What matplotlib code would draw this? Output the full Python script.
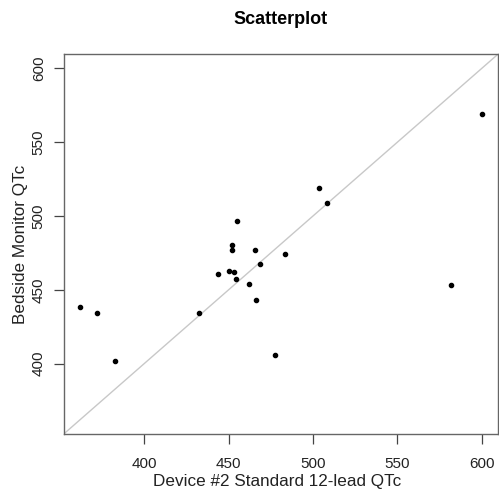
import numpy as np
import matplotlib.pyplot as plt

plt.rcParams['font.family'] = ['Liberation Sans', 'DejaVu Sans']

# QTc values
device2_qtc = [362, 372, 383, 432.5, 444, 450.5, 453.5, 452, 452, 455, 454.5,
               462, 466, 477.5, 581.5, 600, 503.5, 508.5, 465.5, 468.5, 483.5]
bedside_qtc = [438.5, 434, 402, 434, 461, 463, 462, 480.5, 477, 496.5, 457,
               454, 443, 406, 453, 569, 519, 508.5, 477, 467.5, 474]

ticks = [400, 450, 500, 550, 600]

# R-style limits: data range plus 4% on each side, same for both axes
lo, hi = min(device2_qtc), max(device2_qtc)
pad = 0.04 * (hi - lo)
lims = (lo - pad, hi + pad)

fig = plt.figure(figsize=(4.99, 4.97), dpi=100)
ax = fig.add_axes([0.128, 0.127, 0.870, 0.764])

ax.plot(lims, lims, color='#c8c8c8', lw=1.0, zorder=1)
ax.plot(device2_qtc, bedside_qtc, 'o', color='black', ms=3.0, zorder=2)

ax.set_xlim(lims)
ax.set_ylim(lims)
ax.set_xticks(ticks)
ax.set_yticks(ticks)
ax.set_yticklabels([str(t) for t in ticks], rotation=90, va='center')
ax.tick_params(direction='out', length=7, width=0.9, colors='#444444',
               labelcolor='#222222', labelsize=11)
ax.tick_params(axis='x', pad=10)
ax.tick_params(axis='y', pad=6)

for s in ax.spines.values():
    s.set_color('#666666')
    s.set_linewidth(1.0)

ax.set_xlabel('Device #2 Standard 12-lead QTc', fontsize=12.3, color='#222222', labelpad=2)
ax.set_ylabel('Bedside Monitor QTc', fontsize=12.3, color='#222222', labelpad=3)
ax.xaxis.label.set_x(0.491)
ax.set_title('Scatterplot', fontsize=13, fontweight='bold', pad=22)

fig.savefig('out.png', dpi=100)
